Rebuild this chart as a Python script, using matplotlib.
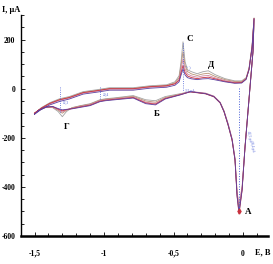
import matplotlib.pyplot as plt
from matplotlib.ticker import MultipleLocator

plt.rcParams['font.family'] = ['Liberation Serif', 'DejaVu Serif']

# potential, V (one closed scan: forward branch, vertex, return to A, back branch)
E = [-1.50, -1.45, -1.39, -1.32, -1.25, -1.15, -1.05, -0.96, -0.79, -0.67,
     -0.55, -0.49, -0.46, -0.446, -0.432, -0.417, -0.40, -0.37, -0.33, -0.29,
     -0.25, -0.20, -0.13, -0.06, -0.01, 0.022, 0.043, 0.065, 0.079,
     0.072, 0.014, -0.007, -0.029,
     -0.043, -0.058, -0.079, -0.108, -0.137, -0.165, -0.21, -0.27, -0.38, -0.45,
     -0.56, -0.63, -0.70, -0.79, -0.92, -0.99, -1.03, -1.10, -1.17, -1.23,
     -1.27, -1.30, -1.33, -1.37, -1.42, -1.47, -1.50]

# current, uA, one list per cycle
I_gray = [-102, -77, -57, -41, -32, -12, -4, 4, 4, 12,
          16, 28, 53, 110, 191, 110, 77, 69, 61, 69,
          73, 57, 41, 32, 32, 45, 85, 179, 288,
          158, -236, -410, -495,
          -430, -288, -207, -146, -93, -57, -32, -20, -12, -20,
          -32, -49, -45, -28, -37, -41, -45, -61, -69, -77,
          -93, -114, -93, -77, -77, -89, -102]
I_tan = [-100, -78, -59, -44, -35, -15, -7, 1, 1, 9,
         13, 24, 45, 95, 150, 95, 70, 60, 54, 60,
         63, 50, 37, 29, 29, 42, 80, 170, 285,
         155, -238, -405, -480,
         -425, -285, -205, -143, -91, -56, -31, -19, -12, -22,
         -36, -55, -50, -31, -39, -43, -47, -63, -70, -78,
         -88, -100, -88, -75, -76, -88, -100]
I_pink = [-101, -80, -62, -47, -38, -18, -10, -2, -2, 6,
          10, 20, 38, 80, 120, 80, 60, 52, 47, 52,
          54, 44, 33, 26, 26, 40, 78, 165, 283,
          153, -240, -400, -470,
          -420, -282, -203, -141, -90, -55, -30, -18, -11, -23,
          -39, -60, -55, -34, -41, -45, -49, -65, -72, -80,
          -86, -95, -85, -74, -76, -88, -101]
I_red = [-100, -79, -60, -45, -36, -16, -8, 0, 0, 8,
         12, 20, 34, 65, 95, 66, 52, 45, 41, 45,
         47, 40, 30, 24, 25, 40, 80, 172, 287,
         157, -236, -415, -510,
         -440, -292, -210, -148, -94, -58, -33, -21, -13, -24,
         -40, -63, -58, -36, -43, -47, -51, -67, -74, -81,
         -85, -90, -83, -73, -75, -87, -100]
I_purple = [-104, -84, -66, -52, -42, -22, -14, -6, -6, 2,
            6, 14, 28, 55, 80, 56, 45, 40, 37, 40,
            41, 36, 28, 22, 23, 38, 78, 168, 285,
            155, -240, -412, -505,
            -436, -290, -208, -146, -93, -57, -32, -20, -12, -25,
            -42, -66, -61, -38, -45, -49, -53, -69, -76, -82,
            -84, -86, -81, -72, -75, -88, -104]

curves = [I_gray, I_tan, I_pink, I_red, I_purple]
colors = ['#a3a3a3', '#b89274', '#cf86a4', '#c8323f', '#5e3f9e']

fig = plt.figure(figsize=(2.73, 2.64), dpi=100)
ax = fig.add_axes([0.077, 0.106, 0.905, 0.837])

for I, c in zip(curves, colors):
    ax.plot(E, I, color=c, linewidth=0.6)

# dotted guide lines with small readings
blue = '#4a5fd6'
ax.plot([-0.03, -0.03], [2, -490], color=blue, linestyle=':', linewidth=0.7)
ax.plot([-0.432, -0.432], [185, -8], color=blue, linestyle=':', linewidth=0.6)
ax.plot([-1.03, -1.03], [5, -45], color=blue, linestyle=':', linewidth=0.6)
ax.plot([-1.32, -1.32], [8, -100], color=blue, linestyle=':', linewidth=0.6)
ax.plot([-0.029], [-500], marker='d', color='#c8323f', markersize=2.5)
ax.text(0.02, -215, '42,5 μA', fontsize=2.5, color=blue, rotation=-80)
ax.text(0.04, -255, '36,4 μA', fontsize=2.5, color=blue, rotation=-80)
ax.text(-0.42, -12, '3,5 μA', fontsize=2.5, color=blue)
ax.text(-0.41, 78, '~ )', fontsize=3, color=blue)
ax.text(-1.01, -28, '20,4', fontsize=2.5, color=blue)
ax.text(-1.30, -60, '12,3', fontsize=2.5, color=blue)

# peak labels
lab = dict(fontsize=6.5, fontweight='bold', color='black')
ax.text(-0.41, 195, 'C', **lab)
ax.text(-0.25, 90, 'Д', **lab)
ax.text(-0.64, -110, 'Б', **lab)
ax.text(-1.29, -165, 'Г', **lab)
ax.text(0.015, -510, 'A', **lab)

ax.set_xlim(-1.597, 0.18)
ax.set_ylim(-595, 300)
ax.xaxis.set_major_locator(MultipleLocator(0.5))
ax.xaxis.set_minor_locator(MultipleLocator(0.1))
ax.yaxis.set_major_locator(MultipleLocator(200))
ax.yaxis.set_minor_locator(MultipleLocator(50))
ax.set_xticks([-1.5, -1.0, -0.5, 0.0])
ax.set_xticklabels(['-1,5', '-1', '-0,5', '0'])
ax.set_yticks([-600, -400, -200, 0, 200])
ax.set_yticklabels(['-600', '-400', '-200', '0', '200'])
ax.tick_params(which='both', direction='in', labelsize=5.5, width=0.6)
ax.tick_params(which='major', length=3)
ax.tick_params(which='minor', length=2)
ax.tick_params(axis='x', pad=10)
ax.tick_params(axis='y', pad=4)
for t in ax.get_xticklabels() + ax.get_yticklabels():
    t.set_fontweight('bold')

for s in ['top', 'right']:
    ax.spines[s].set_visible(False)
ax.spines['left'].set_linewidth(1.0)
ax.spines['bottom'].set_linewidth(1.8)

fig.text(0.008, 0.955, 'I, μA', fontsize=6, fontweight='bold')
fig.text(0.935, 0.035, 'E, B', fontsize=6, fontweight='bold')

fig.savefig('out.png', dpi=100)
